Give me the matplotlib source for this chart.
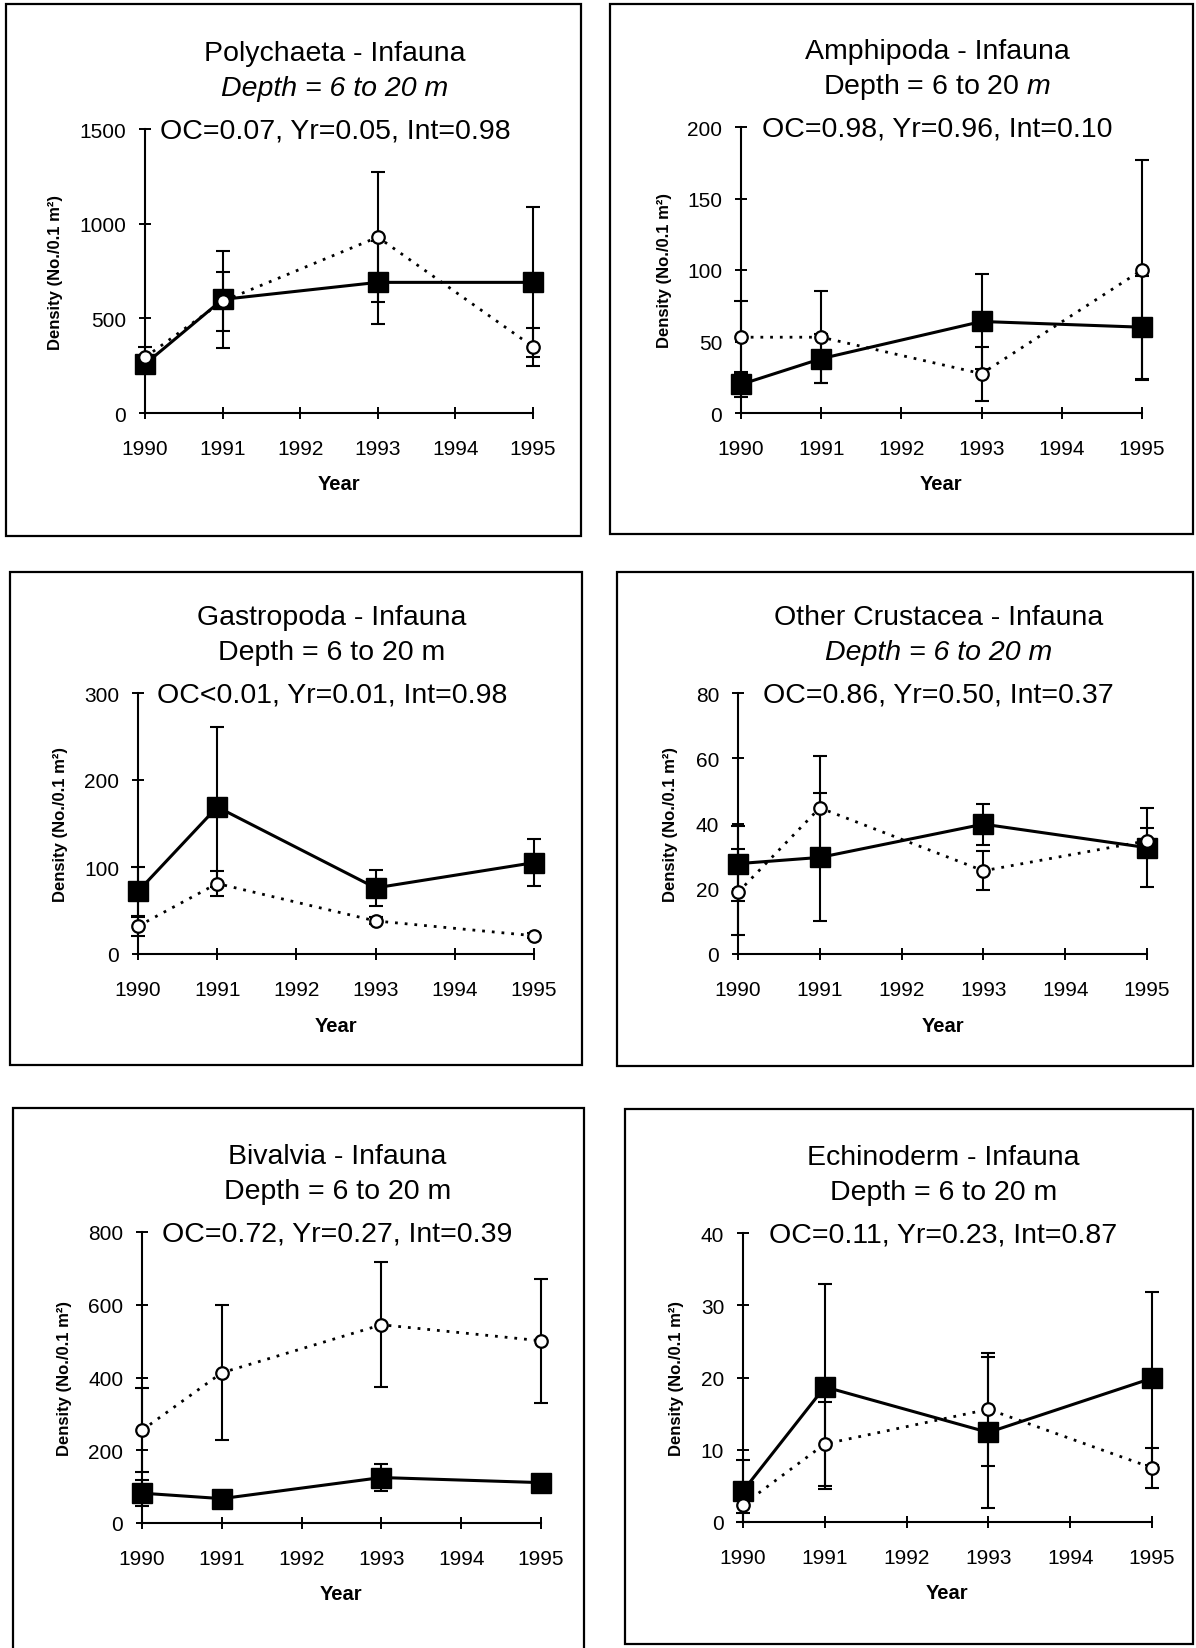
import matplotlib.pyplot as plt
from matplotlib.patches import Rectangle

plt.rcParams['font.family'] = ['Liberation Sans', 'DejaVu Sans']
plt.rcParams['mathtext.fontset'] = 'custom'
plt.rcParams['mathtext.rm'] = 'Liberation Sans'
plt.rcParams['mathtext.it'] = 'Liberation Sans:italic'

W, H = 1196, 1649

years = [1990, 1991, 1993, 1995]
year_ticks = [1990, 1991, 1992, 1993, 1994, 1995]

# one entry per panel
titles = ['Polychaeta - Infauna', 'Amphipoda - Infauna', 'Gastropoda - Infauna',
          'Other Crustacea - Infauna', 'Bivalvia - Infauna', 'Echinoderm - Infauna']
depth_lines = ['Depth = 6 to 20 m', r'Depth = 6 to 20 $\mathit{m}$',
               'Depth = 6 to 20 m', 'Depth = 6 to 20 m',
               'Depth = 6 to 20 m', 'Depth = 6 to 20 m']
depth_style = ['italic', 'normal', 'normal', 'italic', 'normal', 'normal']
stats = ['OC=0.07, Yr=0.05, Int=0.98', 'OC=0.98, Yr=0.96, Int=0.10',
         'OC<0.01, Yr=0.01, Int=0.98', 'OC=0.86, Yr=0.50, Int=0.37',
         'OC=0.72, Yr=0.27, Int=0.39', 'OC=0.11, Yr=0.23, Int=0.87']
y_ticks = [[0, 500, 1000, 1500], [0, 50, 100, 150, 200], [0, 100, 200, 300],
           [0, 20, 40, 60, 80], [0, 200, 400, 600, 800], [0, 10, 20, 30, 40]]

# filled squares, solid line
solid_mean = [[258, 600, 690, 690], [20, 38, 64, 60], [72, 169, 76, 105],
              [27.7, 29.6, 39.8, 32.6], [82, 67, 125, 111], [4.3, 18.7, 12.4, 19.9]]
solid_err = [[40, 255, 220, 396], [9, 17, 33, 36], [28, 92, 21, 27],
             [11.5, 19.6, 6.3, 12.2], [36, 8, 37, 8], [4.3, 14.2, 10.4, 12]]
# open circles, dotted line
open_mean = [[294, 590, 929, 350], [53, 53, 27.5, 100], [32, 81, 38, 21],
             [18.9, 44.8, 25.5, 34.7], [255, 413, 545, 501], [2.4, 10.8, 15.6, 7.5]]
open_err = [[56, 155, 345, 101], [25, 32, 19, 77], [11, 14, 4, 3],
            [13.2, 15.8, 6, 3.8], [116, 185, 172, 170], [1.1, 5.8, 7.8, 2.8]]

# layout in pixels: panel box (x0, y0, x1, y1), axes (left, right, y of top tick, y of zero)
boxes = [(6, 5, 581, 537), (610, 5, 1193, 535), (10, 573, 582, 1066),
         (617, 573, 1193, 1067), (13, 1109, 584, 1660), (625, 1110, 1193, 1645)]
axes_px = [(145, 533, 130, 414), (741, 1142, 128, 414), (138, 534, 694, 955),
           (738, 1147, 694, 955), (142, 541, 1233, 1524), (743, 1152, 1234, 1523)]
ylab_off = [-89, -77, -77, -68, -77, -67]

fig = plt.figure(figsize=(W / 100, H / 100), dpi=100)

for i in range(6):
    bx0, by0, bx1, by1 = boxes[i]
    fig.patches.append(Rectangle((bx0 / W, 1 - by1 / H), (bx1 - bx0) / W, (by1 - by0) / H,
                                 transform=fig.transFigure, fill=False, lw=1.6, ec='black'))
    l, r, t, b = axes_px[i]
    ax = fig.add_axes([l / W, 1 - b / H, (r - l) / W, (b - t) / H])
    ymax = y_ticks[i][-1]

    ax.errorbar(years, solid_mean[i], yerr=solid_err[i], fmt='none', ecolor='black',
                elinewidth=1.5, capsize=5, capthick=1.5, clip_on=False, zorder=2)
    ax.errorbar(years, open_mean[i], yerr=open_err[i], fmt='none', ecolor='black',
                elinewidth=1.5, capsize=5, capthick=1.5, clip_on=False, zorder=2)
    ax.plot(years, solid_mean[i], '-', color='black', lw=2.2, marker='s', ms=14,
            mfc='black', mec='black', clip_on=False, zorder=3)
    ax.plot(years, open_mean[i], color='black', lw=2, ls=(0, (1, 2.5)), marker='o',
            ms=9, mfc='white', mec='black', mew=1.6, clip_on=False, zorder=4)

    ax.set_xlim(1990, 1995)
    ax.set_ylim(0, ymax)
    ax.set_xticks(year_ticks)
    ax.set_yticks(y_ticks[i])
    for s in ['top', 'right']:
        ax.spines[s].set_visible(False)
    for s in ['left', 'bottom']:
        ax.spines[s].set_linewidth(1.5)
    ax.tick_params(axis='both', direction='inout', length=9, width=1.4, labelsize=15)
    ax.tick_params(axis='x', pad=14)
    ax.tick_params(axis='y', pad=9)

    hpx = b - t
    wpx = r - l
    ax.set_xlabel('Year', fontsize=14.5, fontweight='bold')
    ax.xaxis.label.set_va('center')
    ax.xaxis.set_label_coords(0.5, -71 / hpx)
    ax.set_ylabel('Density (No./0.1 m²)', fontsize=12, fontweight='bold')
    ax.yaxis.label.set_va('center')
    ax.yaxis.set_label_coords(ylab_off[i] / wpx, 0.5)

    cx = ((l + r) / 2 - 4) / W
    fig.text(cx, 1 - (t - 69) / H, titles[i], ha='center', va='baseline', fontsize=20.5)
    fig.text(cx, 1 - (t - 33.5) / H, depth_lines[i], ha='center', va='baseline',
             fontsize=20.5, fontstyle=depth_style[i])
    fig.text(cx, 1 - (t + 8.5) / H, stats[i], ha='center', va='baseline', fontsize=20.5)

fig.savefig('out.png', dpi=100, facecolor='white')
